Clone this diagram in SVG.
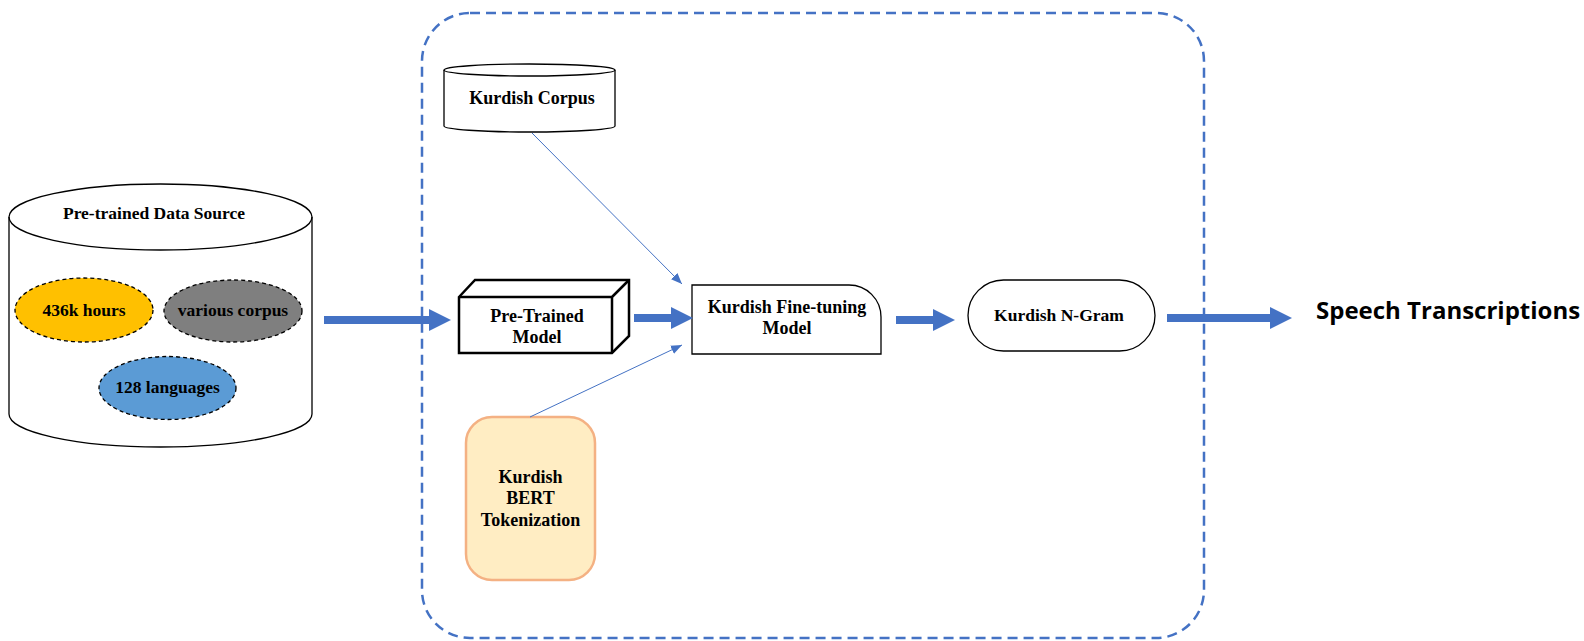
<svg xmlns="http://www.w3.org/2000/svg" width="1584" height="641" viewBox="0 0 1584 641">
<defs>
<style>
.t{font-family:"Liberation Serif","Times New Roman",serif;font-weight:bold;font-size:18px;fill:#000;text-anchor:middle}
.ln{fill:none;stroke:#000;stroke-width:1.3}
.el{stroke:#000;stroke-width:1.3;stroke-dasharray:4 3}
.thick{stroke:#4472C4;stroke-width:8;fill:none}
.thin{stroke:#4472C4;stroke-width:1;fill:none}
</style>
<marker id="big" markerUnits="userSpaceOnUse" markerWidth="24" markerHeight="24" refX="1" refY="12" orient="auto" viewBox="0 0 24 24">
<path d="M0,1 L22,12 L0,23 Z" fill="#4472C4"/>
</marker>
<marker id="small" markerUnits="userSpaceOnUse" markerWidth="12" markerHeight="12" refX="11" refY="6" orient="auto" viewBox="0 0 12 12">
<path d="M0,1.5 L11,6 L0,10.5 Z" fill="#4472C4"/>
</marker>
</defs>
<rect width="1584" height="641" fill="#fff"/>

<g id="container">
<rect x="422" y="13" width="782" height="625" rx="48" fill="none" stroke="#4472C4" stroke-width="2.5" stroke-dasharray="10 6"/>
</g>

<g id="pretrained-data-source">
<path class="ln" d="M9,217 V414 A151.5,33 0 0 0 312,414 V217" fill="#fff"/>
<ellipse class="ln" cx="160.5" cy="217" rx="151.5" ry="33" fill="#fff"/>
<text class="t" x="154" y="219" style="font-size:17.5px">Pre-trained Data Source</text>
<g id="hours">
<ellipse class="el" cx="84" cy="310" rx="69" ry="32" fill="#FFC000"/>
<text class="t" x="84" y="316" style="font-size:17.5px">436k hours</text>
</g>
<g id="corpus">
<ellipse class="el" cx="233" cy="311" rx="69" ry="31" fill="#7F7F7F"/>
<text class="t" x="233" y="316" style="font-size:17.5px">various corpus</text>
</g>
<g id="languages">
<ellipse class="el" cx="167.5" cy="388" rx="68.5" ry="31.5" fill="#5B9BD5"/>
<text class="t" x="167.5" y="393" style="font-size:17.5px">128 languages</text>
</g>
</g>

<g id="kurdish-corpus">
<path class="ln" d="M444,70 V126 A85.5,6 0 0 0 615,126 V70" fill="#fff"/>
<ellipse class="ln" cx="529.5" cy="70" rx="85.5" ry="6" fill="#fff"/>
<text class="t" x="532" y="104">Kurdish Corpus</text>
</g>

<g id="pretrained-model">
<path d="M459,297 L475,280 H629 V336 L612,353 H459 Z" fill="#fff" stroke="#000" stroke-width="2.5" stroke-linejoin="miter"/>
<path d="M459,297 H612 V353 M612,297 L629,280" fill="none" stroke="#000" stroke-width="2.5"/>
<text class="t" x="537" y="322">Pre-Trained</text>
<text class="t" x="537" y="343">Model</text>
</g>

<g id="fine-tuning">
<path d="M692,285 H849 A32,32 0 0 1 881,317 V354 H692 Z" fill="#fff" stroke="#000" stroke-width="1.3"/>
<text class="t" x="787" y="313">Kurdish Fine-tuning</text>
<text class="t" x="787" y="334">Model</text>
</g>

<g id="ngram">
<rect x="968" y="280" width="187" height="71" rx="35.5" fill="#fff" stroke="#000" stroke-width="1.3"/>
<text class="t" x="1059" y="321" style="font-size:17.5px">Kurdish N-Gram</text>
</g>

<g id="bert">
<rect x="466" y="417" width="129" height="163" rx="26" fill="#FFEDC3" stroke="#F4B183" stroke-width="2.5"/>
<text class="t" x="530.5" y="483">Kurdish</text>
<text class="t" x="530.5" y="504">BERT</text>
<text class="t" x="530.5" y="526">Tokenization</text>
</g>

<g id="output">
<text x="1316" y="319" style="font-family:'Open Sans','Noto Sans',sans-serif;font-weight:bold;font-size:24px;fill:#000">Speech Transcriptions</text>
</g>

<g id="connectors">
<line class="thick" x1="324" y1="320" x2="430" y2="320" marker-end="url(#big)"/>
<line class="thick" x1="634" y1="318" x2="672" y2="318" marker-end="url(#big)"/>
<line class="thick" x1="896" y1="320" x2="934" y2="320" marker-end="url(#big)"/>
<line class="thick" x1="1167" y1="318" x2="1271" y2="318" marker-end="url(#big)"/>
<line class="thin" x1="532" y1="133" x2="682" y2="284" marker-end="url(#small)"/>
<line class="thin" x1="530" y1="417" x2="682" y2="345" marker-end="url(#small)"/>
</g>
</svg>
